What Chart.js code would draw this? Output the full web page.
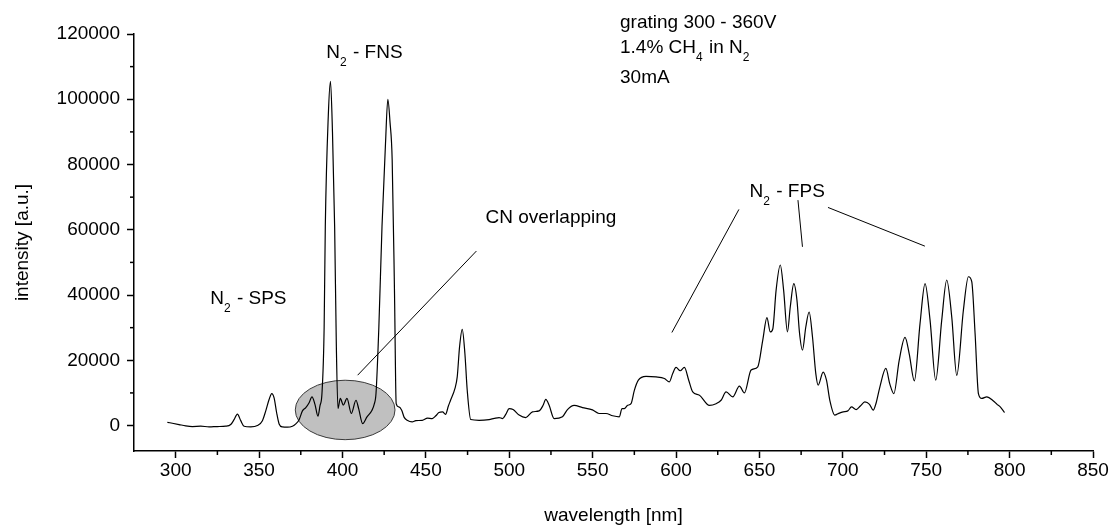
<!DOCTYPE html>
<html>
<head>
<meta charset="utf-8">
<script src="https://cdn.jsdelivr.net/npm/chart.js@4.4.1/dist/chart.umd.min.js"></script>
<style>
html,body{margin:0;padding:0;background:#fff;}
#wrap{width:1110px;height:528px;}
</style>
</head>
<body>
<div id="wrap"><canvas id="c" width="1110" height="528"></canvas></div>
<script>
// ---- data ----
const wavelength = [295,298,302,306,310,315,320,325,330,333,335,337,339,341,345,349,352,354,356,357.6,359,360.5,362,364,367,370,372,374,376,378,380,381.7,383.5,385.3,386.5,387.7,389,389.7,391.5,392.8,394,395.3,396.3,397.3,398.7,400.5,402.7,405.3,408.1,409.7,412.1,414.7,417.7,419,420.1,421.8,423.7,425.8,427.2,428.5,429.8,431.2,432.2,433.8,435.5,437,438.8,441.8,444,447.8,451,453.8,456,457.8,460,461.8,463.5,464.8,467.4,468.8,470.2,471.8,473.4,474.8,476.9,481.9,487.9,491,493.9,496,498,499.9,502.3,505.9,509.9,513.9,517.9,520.3,521.9,523.9,526.9,531.9,534.9,538.9,543.9,549.9,553.8,558,562,566,567.6,569,571,573,575,577.4,582,588,593,596,598,600,602.5,605,607.6,610,614,620,624,627,630,634,638,641,645,649,652,654.5,656.5,658,660,662.5,664.5,666.8,668.5,670.6,672.5,674,675.8,677.8,679.8,681.8,683.8,685.2,688.2,690.2,692.2,695.2,697,700.2,703,705.2,708,710.5,713.2,716,718.2,720,722.2,725.8,728.2,730.6,733.8,737.3,739.8,742.9,746.3,749.3,752.3,755.7,759.3,762.3,765.3,768.3,772.3,775.3,777.3,779.3,781.3,783.3,786.3,790.3,792.5,794.4,797];
const intensity = [1000,700,300,-100,-300,-200,-400,-300,-200,300,1800,3500,1500,-200,-400,0,1500,4500,8000,9800,8500,4000,500,-400,-500,-200,500,1800,4500,5500,7000,8800,6500,2850,6000,9800,30000,61000,95000,105500,90000,61000,25000,5200,8300,6300,8300,3700,7750,5200,600,2650,4700,6500,9800,30000,61000,86500,100000,93000,81400,40500,6700,5700,4700,2500,1600,1100,1500,1600,2300,2150,3000,4000,4200,3450,6000,7750,11300,14900,24100,29500,22100,10800,1840,1600,1840,2200,2450,2150,3500,5200,4900,3200,2450,4200,4500,6200,8000,6200,2150,2700,4900,6200,5500,4800,3700,3700,3000,2650,5200,5200,6200,6700,10800,13900,15100,14900,14400,13400,15950,17800,16800,17800,13900,10300,9300,6200,6700,7750,10300,8800,12100,10000,17000,18000,26200,33100,28700,29600,41500,49200,41500,28700,36400,43500,38400,28500,23100,30200,34800,27200,15900,12400,16400,13900,7750,3200,3600,4200,4500,5700,4900,6000,7250,6500,4700,7000,11800,17500,12700,9800,20000,27000,22000,13700,31300,43500,32300,13900,32300,44600,33300,15400,35400,45600,44100,28200,9800,8300,8800,7550,6500,5700,4000];

const xTicks = [300,350,400,450,500,550,600,650,700,750,800,850];
const xMinorTicks = [325,375,425,475,525,575,625,675,725,775,825];
const yTicks = [0,20000,40000,60000,80000,100000,120000];
const yMinorTicks = [10000,30000,50000,70000,90000,110000];

// annotation texts: segments [text, isSubscript]
const labelFNS = [['N',false],['2',true],[' - FNS',false]];
const labelSPS = [['N',false],['2',true],[' - SPS',false]];
const labelFPS = [['N',false],['2',true],[' - FPS',false]];
const labelCN = [['CN overlapping',false]];
const labelInfo1 = [['grating 300 - 360V',false]];
const labelInfo2 = [['1.4% CH',false],['4',true],[' in N',false],['2',true]];
const labelInfo3 = [['30mA',false]];

// anchors in data units [wavelength, intensity]
const textAnchors = [
  [labelFNS, 390.3, 112600],
  [labelSPS, 320.7, 37200],
  [labelFPS, 644.1, 70160],
  [labelCN, 485.7, 62040],
  [labelInfo1, 566.4, 121830],
  [labelInfo2, 566.4, 114170],
  [labelInfo3, 566.4, 104970]
];
const pointerLines = [
  [480.3, 53480, 409.1, 15430],
  [637.7, 66240, 597.5, 28520],
  [673.1, 69090, 675.8, 54770],
  [691.1, 66850, 749.2, 54980]
];
const cnEllipse = {cx: 401.6, cy: 4780, rx: 29.9, ry: 9110};

const FONT = '"Liberation Sans", Arial, sans-serif';

const annot = {
  id: 'annot',
  beforeDatasetsDraw(chart) {
    const {ctx, scales: {x, y}} = chart;
    const cx = x.getPixelForValue(cnEllipse.cx), cy = y.getPixelForValue(cnEllipse.cy);
    const rx = Math.abs(x.getPixelForValue(cnEllipse.cx + cnEllipse.rx) - cx);
    const ry = Math.abs(y.getPixelForValue(cnEllipse.cy + cnEllipse.ry) - cy);
    ctx.save();
    ctx.beginPath();
    ctx.ellipse(cx, cy, rx, ry, 0, 0, Math.PI * 2);
    ctx.fillStyle = '#c0c0c0';
    ctx.fill();
    ctx.lineWidth = 1;
    ctx.strokeStyle = '#3a3a3a';
    ctx.stroke();
    ctx.restore();
  },
  afterDraw(chart) {
    const {ctx, scales: {x, y}} = chart;
    ctx.save();
    // minor ticks
    ctx.strokeStyle = '#000';
    ctx.lineWidth = 1.5;
    const yAxisX = x.left;
    yMinorTicks.forEach(v => {
      const py = y.getPixelForValue(v);
      ctx.beginPath(); ctx.moveTo(yAxisX, py); ctx.lineTo(yAxisX - 4, py); ctx.stroke();
    });
    const xAxisY = y.bottom;
    xMinorTicks.forEach(v => {
      const px = x.getPixelForValue(v);
      ctx.beginPath(); ctx.moveTo(px, xAxisY); ctx.lineTo(px, xAxisY + 4); ctx.stroke();
    });
    // pointer lines
    ctx.lineWidth = 1;
    ctx.strokeStyle = '#000';
    pointerLines.forEach(([a, b, c, d]) => {
      ctx.beginPath();
      ctx.moveTo(x.getPixelForValue(a), y.getPixelForValue(b));
      ctx.lineTo(x.getPixelForValue(c), y.getPixelForValue(d));
      ctx.stroke();
    });
    // texts
    ctx.fillStyle = '#000';
    ctx.textBaseline = 'alphabetic';
    ctx.textAlign = 'left';
    textAnchors.forEach(([segs, wx, wy]) => {
      let px = x.getPixelForValue(wx);
      const py = y.getPixelForValue(wy);
      segs.forEach(([t, sub]) => {
        ctx.font = (sub ? '12px ' : '19px ') + FONT;
        ctx.fillText(t, px, sub ? py + 8 : py);
        px += ctx.measureText(t).width + (sub ? 1 : 0);
      });
    });
    ctx.restore();
  }
};

new Chart(document.getElementById('c'), {
  type: 'line',
  data: {
    datasets: [{
      data: wavelength.map((w, i) => ({x: w, y: intensity[i]})),
      borderColor: '#000',
      borderWidth: 1.2,
      pointRadius: 0,
      fill: false,
      cubicInterpolationMode: 'monotone'
    }]
  },
  options: {
    responsive: false,
    animation: false,
    devicePixelRatio: 1,
    layout: {padding: {top: 34, right: 17, bottom: 0, left: 0}},
    plugins: {legend: {display: false}, tooltip: {enabled: false}},
    scales: {
      x: {
        type: 'linear',
        min: 275,
        max: 850,
        afterBuildTicks: s => { s.ticks = xTicks.map(v => ({value: v})); },
        afterFit: s => { s.height = 77; },
        border: {display: true, color: '#000', width: 1.5},
        grid: {drawOnChartArea: false, drawTicks: true, tickLength: 7, tickColor: '#000', tickWidth: 1.5},
        ticks: {color: '#000', font: {family: FONT, size: 19}, padding: 1, maxRotation: 0, autoSkip: false, callback: v => String(v)},
        title: {display: true, text: 'wavelength [nm]', color: '#000', font: {family: FONT, size: 19}, padding: {top: 0, bottom: 1}}
      },
      y: {
        min: -7800,
        max: 120000,
        afterBuildTicks: s => { s.ticks = yTicks.map(v => ({value: v})); },
        afterFit: s => { s.width = 134; },
        border: {display: true, color: '#000', width: 1.5},
        grid: {drawOnChartArea: false, drawTicks: true, tickLength: 7, tickColor: '#000', tickWidth: 1.5},
        ticks: {color: '#000', font: {family: FONT, size: 19}, padding: 7, autoSkip: false, callback: v => String(v)},
        title: {display: true, text: 'intensity [a.u.]', color: '#000', font: {family: FONT, size: 19}, padding: {top: 11.6, bottom: 0}}
      }
    }
  },
  plugins: [annot]
});
</script>
</body>
</html>
